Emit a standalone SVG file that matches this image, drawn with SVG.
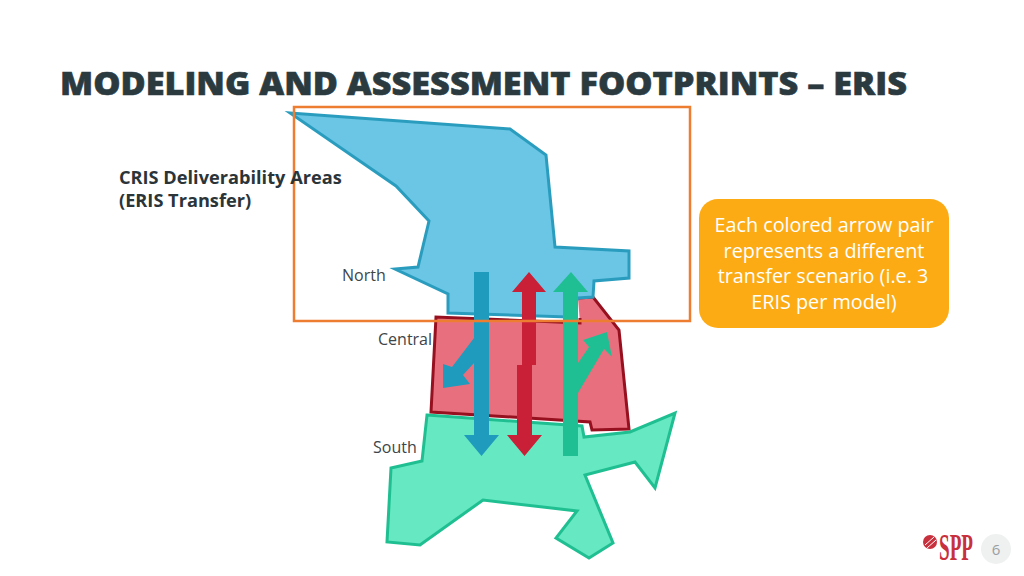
<svg xmlns="http://www.w3.org/2000/svg" width="1024" height="576" viewBox="0 0 1024 576">
<style>
text{font-family:"Open Sans","Noto Sans","Liberation Sans",sans-serif}
.lbl{font-size:16px;fill:#404548}
.b{font-size:18.200px;font-weight:700;fill:#2b3539}
.c{font-size:19.800px;fill:#fff;text-anchor:middle}
</style>
<rect width="1024" height="576" fill="#fff"/>
<text id="title" x="60" y="95" font-size="32" font-weight="800" fill="#2b3a3f" stroke="#2b3a3f" stroke-width="0.600" textLength="847" lengthAdjust="spacingAndGlyphs">MODELING AND ASSESSMENT FOOTPRINTS – ERIS</text>
<g id="central">
<polygon points="436,317 580,323 578,298 593,297 619,330 629,429 592,430 590,422 431,412" fill="#E8707E"/>
<path d="M578 298L593 297L619 330L629 429L592 430L590 422L431 412L436 317L580 323L580 318" fill="none" stroke="#96101F" stroke-width="3"/>
</g>
<g id="north"><polygon points="290,113 510,129 546,155 555,247 629,251 629,278 594,281 593,297 578,298 568,317 448,313 448,294 395,269 418,267 429,221 396,186" fill="#6BC6E6" stroke="#2A9DBE" stroke-width="3" stroke-linejoin="miter"/></g>
<g id="south"><polygon points="427,415 582,426 584,437 630,432 675,413 655,488 635,462 585,475 613,543 589,558 556,538 577,511 483,500 420,545 387,542 391,468 422,461" fill="#66E8C2" stroke="#1FBF92" stroke-width="3"/></g>
<g id="connectors">
<polygon fill="#1F9BBD" points="474,272 489,272 489,435 499,435 481.500,456 464,435 474,435 474,363 463,375 470,384 443,388 443,364 452,367 474,338"/>
<polygon fill="#C91F37" points="529,272 546,292 536,292 536,365 532,365 532,435 542,435 524.500,456 507,435 517,435 517,365 522,365 522,292 512,292"/>
<polygon fill="#20BF93" points="571,272 588,292 578,292 578,363 589,347 583,340 607,332 612,357 604,349 578,393 578,456 563,456 563,292 553,292"/>
</g>
<g id="footprint-frame"><rect x="294" y="107" width="396" height="214" fill="none" stroke="#ED7D31" stroke-width="2.500"/></g>
<g id="labels">
<text class="b" x="119" y="184">CRIS Deliverability Areas</text>
<text class="b" x="119" y="207">(ERIS Transfer)</text>
<text class="lbl" x="342" y="281">North</text>
<text class="lbl" x="378" y="345">Central</text>
<text class="lbl" x="373" y="453">South</text>
</g>
<g id="callout">
<rect x="699" y="199" width="250" height="129" rx="19" fill="#FCAB14"/>
<text class="c" x="824" y="232">Each colored arrow pair</text>
<text class="c" x="824" y="258">represents a different</text>
<text class="c" x="823" y="283">transfer scenario (i.e. 3</text>
<text class="c" x="824" y="309">ERIS per model)</text>
</g>
<g id="logo">
<circle cx="930" cy="542" r="7" fill="#C9303E"/>
<path d="M925 545L934 537M927 548L936 540" stroke="#fff" stroke-width="1" fill="none"/>
<text transform="translate(939 560) scale(.517 1)" font-size="37" font-weight="700" fill="#C9303E" style="font-family:'Liberation Serif',serif">SPP</text>
</g>
<g id="page">
<circle cx="996" cy="549" r="15" fill="#EFF0F0"/>
<text x="996" y="555" font-size="15" fill="#9a9fa2" text-anchor="middle">6</text>
</g>
</svg>
